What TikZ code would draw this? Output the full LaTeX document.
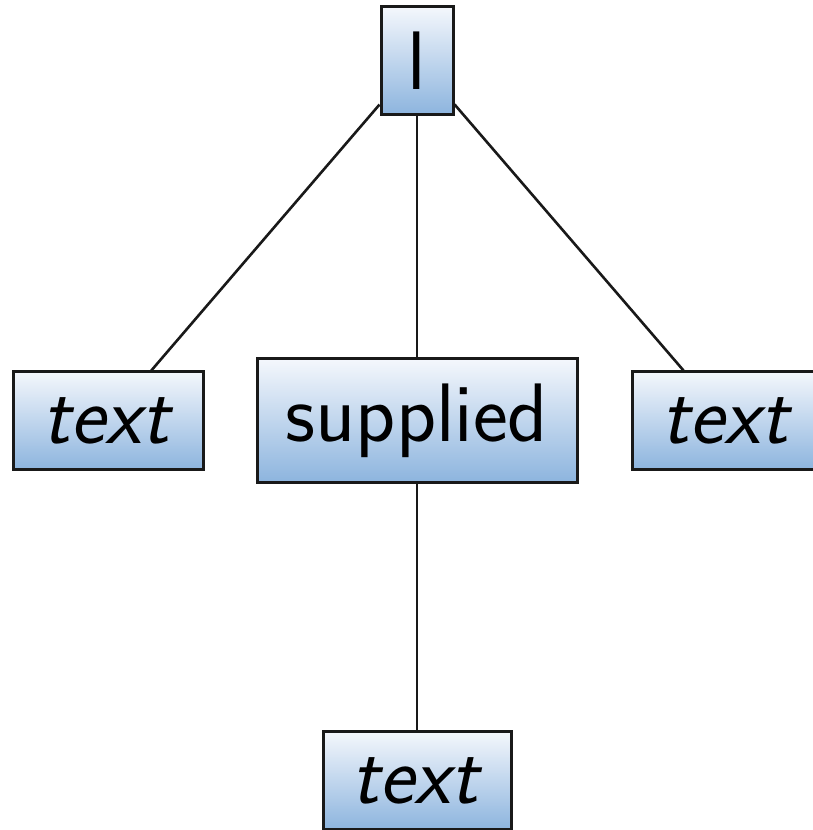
\documentclass[tikz,border=0pt]{standalone}
\usepackage{fontspec}
\usetikzlibrary{shadings}
\definecolor{boxtop}{RGB}{244,247,252}
\definecolor{boxbot}{RGB}{140,180,222}
\definecolor{edgecol}{RGB}{25,25,25}
\tikzset{
  treebox/.style={draw=edgecol, line width=3pt, top color=boxtop, bottom color=boxbot,
    inner sep=0pt, font=\fontsize{83}{95}\selectfont\sffamily},
  treeedge/.style={draw=edgecol, line width=2.6pt}
}
\begin{document}
\begin{tikzpicture}[x=1pt,y=1pt]
\useasboundingbox (0,0) rectangle (813,830);
\node[treebox, minimum width=72pt, minimum height=108pt] (root) at (417,769) {l};
\node[treebox, minimum width=190pt, minimum height=98pt] (left) at (108,409) {\textit{text}};
\node[treebox, minimum width=320pt, minimum height=124pt] (mid) at (417,409) {supplied};
\node[treebox, minimum width=190pt, minimum height=98pt] (right) at (727,409) {\textit{text}};
\node[treebox, minimum width=188pt, minimum height=98pt] (bot) at (417,49) {\textit{text}};
\draw[treeedge] (root) -- (left);
\draw[treeedge] (root) -- (mid);
\draw[treeedge] (root) -- (right);
\draw[treeedge] (mid) -- (bot);
\end{tikzpicture}
\end{document}
